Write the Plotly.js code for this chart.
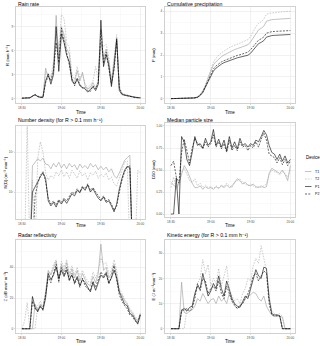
<!DOCTYPE html>
<html><head><meta charset="utf-8">
<script src="https://cdn.plot.ly/plotly-3.0.1.min.js"></script>
<style>html,body{margin:0;padding:0;background:#fff}#chart{width:320px;height:346px}</style>
</head><body><div id="chart"></div>
<script>
// minutes after 18:30
const minutes = [0,2,4,6,8,10,12,14,16,18,20,22,24,26,28,30,32,34,36,38,40,42,44,46,48,50,52,54,56,58,60,62,64,66,68,70,72,74,76,78,80,82,84,86,88,90];
const devices = ['T1','T2','P1','P2'];

// Rain rate (mm h-1)
const rainT1 = [0.05,0.05,0.05,0.1,0.3, 0.5,0.3,0.2,0.2,3.8, 2.6,2.4,3.8,10.4,5.0,9.0, 8.0,6.2,5.6,2.4, 2.0,3.5,2.2,3.3,1.6,1.2,1.4,2.0,1.3,2.2, 7.0,5.0,6.2,4.6,2.0,4.4,7.4,1.2, 0.6,0.5,0.4,0.3,0.25,0.2,0.12,0.1];
const rainT2 = [0.05,0.05,0.05,0.1,0.35, 0.55,0.35,0.25,0.2,3.3, 3.0,2.8,4.6,8.5,6.0,10.5, 10.0,7.0,6.4,3.0, 2.4,4.0,2.6,3.0,1.8,1.4,1.7,2.2,4.0,2.4, 7.0,6.5,6.8,5.2,2.2,5.0,8.0,1.6, 0.7,0.55,0.4,0.35,0.25,0.2,0.12,0.1];
const rainP1 = [0.05,0.05,0.05,0.1,0.3, 0.5,0.25,0.15,0.15,2.2, 3.1,1.8,3.0,9.0,3.4,8.1, 7.0,5.4,4.6,2.2, 1.8,2.4,1.6,1.4,1.2,0.8,1.1,1.5,1.0,1.8, 9.8,4.0,5.5,4.2,1.5,4.0,7.5,1.0, 0.5,0.4,0.35,0.3,0.2,0.15,0.1,0.1];
const rainP2 = [0.05,0.05,0.05,0.1,0.3, 0.45,0.25,0.15,0.2,2.0, 2.8,2.2,3.4,7.0,4.5,8.8, 7.2,5.8,4.2,2.5, 1.6,2.6,1.8,1.3,1.4,1.0,0.9,1.6,1.2,2.0, 8.6,4.4,5.8,3.8,1.8,3.6,7.2,1.3, 0.6,0.45,0.35,0.3,0.2,0.15,0.1,0.1];

// Cumulative precipitation (mm)
const cumT1 = [0,0,0,0,0,0.01,0.02,0.02,0.03,0.04, 0.08,0.18,0.35,0.6,0.92,1.25,1.55,1.7,1.82,1.92, 2.0,2.07,2.14,2.2,2.25,2.29,2.33,2.38,2.42,2.47, 2.6,2.8,3.0,3.15,3.22,3.32,3.55,3.6,3.62,3.63, 3.64,3.65,3.66,3.67,3.67,3.68];
const cumT2 = [0,0,0,0,0,0.01,0.02,0.02,0.03,0.04, 0.08,0.18,0.36,0.64,0.98,1.35,1.68,1.86,2.0,2.1, 2.18,2.27,2.34,2.4,2.45,2.49,2.53,2.6,2.65,2.7, 2.85,3.08,3.3,3.45,3.52,3.64,3.87,3.91,3.93,3.95, 3.96,3.97,3.98,3.99,4.0,4.0];
const cumP1 = [0,0,0,0,0,0.01,0.02,0.02,0.03,0.03, 0.06,0.14,0.28,0.5,0.78,1.02,1.26,1.4,1.5,1.58, 1.65,1.7,1.75,1.8,1.84,1.87,1.9,1.93,1.96,1.99, 2.08,2.24,2.38,2.52,2.58,2.66,2.82,2.87,2.89,2.9, 2.91,2.92,2.93,2.93,2.94,2.94];
const cumP2 = [0,0,0,0,0,0.01,0.02,0.02,0.03,0.04, 0.07,0.16,0.31,0.55,0.85,1.12,1.36,1.5,1.6,1.68, 1.74,1.79,1.85,1.9,1.94,1.98,2.01,2.05,2.09,2.13, 2.24,2.4,2.55,2.68,2.74,2.83,3.0,3.05,3.07,3.08, 3.09,3.1,3.11,3.11,3.12,3.12];

// Number density (m-3 mm-1); 0 = none detected
const ndT1 = [0,0,0,0,45, 55,68,60,70,50, 48,38,52,42,55,40,50,38,52,42, 48,36,50,40,46,38,52,42,48,36, 44,36,42,32,38,26,22,30,45,62, 72,83,0,0,0,0];
const ndT2 = [0,0,500,0,20, 0,70,180,100,30, 20,26,22,32,25,36,24,32,22,35, 28,22,34,25,30,20,30,26,33,22, 28,24,30,20,24,16,14,22,38,55, 60,0,0,0,35,30];
const ndP1 = [0,0,0,0,10, 14,18,24,30,22, 6,4.5,5.5,4.2,6,5,6.5,5.2,7,9, 8,11,9.5,13,11,15,10,12,9,7, 6,7.5,5.5,6,4.5,3.2,5,12,22,35, 44,40,0,0,0,0];
const ndP2 = [0,0,0,0,0, 8,16,26,32,18, 7,5,6,4.8,6.5,5.5,7,6,7.5,10, 9,12,10,14,12,16,11,13,10,8, 6.5,8,6,6.5,5,3.5,4.5,10,20,32, 42,45,0,0,0,0];

// Median particle size D50 (mm)
const d50T1 = [0.36,0.33,0.3,0.35,0.45,0.55,0.5,0.42,0.35,0.3, 0.3,0.32,0.28,0.31,0.29,0.3,0.28,0.31,0.29,0.32, 0.3,0.33,0.3,0.32,0.36,0.4,0.38,0.34,0.36,0.33, 0.32,0.34,0.31,0.3,0.32,0.3,0.31,0.46,0.52,0.5, 0.48,0.46,0.5,0.45,0.38,0.55];
const d50T2 = [0.3,0.42,0.28,0.33,0.48,0.52,0.45,0.38,0.36,0.4, 0.32,0.35,0.3,0.33,0.3,0.31,0.29,0.32,0.3,0.33, 0.31,0.35,0.32,0.3,0.36,0.38,0.4,0.36,0.34,0.32, 0.34,0.32,0.3,0.31,0.3,0.32,0.34,0.45,0.5,0.48, 0.47,0.44,0.48,0.46,0.42,0.5];
const d50P1 = [0,0,0.41,0,0.88,0.82,0.62,0.55,0.7,0.88, 0.78,0.8,0.75,0.86,0.78,0.82,0.96,0.78,0.85,0.76, 0.84,0.72,0.88,0.75,0.82,0.74,0.86,0.78,0.8,0.76, 0.8,0.78,0.84,0.82,0.88,0.95,0.9,0.78,0.7,0.68, 0.62,0.68,0.6,0.66,0.58,0.62];
const d50P2 = [0.55,0.6,0.42,0.35,0.7,0.85,0.72,0.58,0.75,0.86, 0.8,0.78,0.74,0.82,0.76,0.8,0.9,0.76,0.82,0.74, 0.8,0.7,0.84,0.72,0.78,0.72,0.82,0.76,0.78,0.72, 0.78,0.75,0.82,0.76,0.85,0.92,0.84,0.68,0.66,0.64, 0.58,0.64,0.56,0.62,0.55,0.6];

// Radar reflectivity (dB mm6 m-3)
const zT1 = [0,0,0,0,0, 16,12,16,14,24, 38,35,40,44,30,42, 37,43,34,39, 33,38,31,36,32,29,28,34,30,36, 55,38,40,33,36,42,35,24, 22,18,16,12,10,7,5,9];
const zT2 = [0,5,17,0,0, 0,15,18,14,22, 37,36,42,45,33,44, 40,45,36,41, 35,40,34,38,34,31,30,37,33,38, 46,42,43,36,38,45,38,26, 23,19,17,13,11,8,6,10];
const zP1 = [0,0,0,0,21, 14,11,15,12,20, 36,32,35,40,33,38, 34,38,32,35, 30,34,28,32,30,27,24,30,25,30, 35,33,36,30,33,38,33,24, 20,16,15,10,9,6,3,9];
const zP2 = [0,0,0,0,18, 13,12,14,13,22, 34,30,36,42,31,40, 35,40,31,36, 29,33,27,33,28,26,25,31,27,32, 37,34,37,29,34,41,32,22, 18,15,13,9,8,5,4,10];

// Kinetic energy (J m-2 mm-1)
const eT1 = [0,0,0,0,18.5, 6.5,6,7,7.5,9, 12,11,14,12,10,11.5, 12,10,13,11, 12,10,14,11,9,8,9.5,10,12,13, 13.5,14.5,14,12,11,13,9,7, 5.5,5,5,5,4.5,0,0,0];
const eT2 = [0,0,0,0,0, 0,8,7,9,13, 18,20,27.5,22,25.5,17, 20,18,24,17, 21,25,16,13,11,12,10,14,16,20, 19,25,28,26,33,28,23,13, 7,6,5.5,6,5,0,0,0];
const eP1 = [0,0,0,0,7.5, 8,7,8.5,9,14, 17,16,22,18,13,15, 18,16,21,16, 13,19,15,12,10,9,8.5,11,13,12, 15.5,19,23.5,21,20,24.5,24,12, 6,5.5,5.5,5.2,0,0,0,0];
const eP2 = [0,0,0,0,7, 7.5,8,7,8,12, 18,15,20,19,14,16, 17,15,19,14, 12,17,14,11,9.5,8,9,10,12,14, 17,21,22,19,21,23,22,10, 5.5,5,5.2,5,0,0,0,0];

const times = minutes.map(m => {
  const tot = 18*60 + 30 + m;
  const h = Math.floor(tot/60), mm = tot % 60;
  return '2019-06-01 ' + h + ':' + String(mm).padStart(2,'0') + ':00';
});

const styles = {
  T1: {color:'#9a9a9a', dash:'solid'},
  T2: {color:'#ababab', dash:'1.6px,1.2px'},
  P1: {color:'#000000', dash:'solid'},
  P2: {color:'#000000', dash:'2px,1.3px'}
};

const panels = [
  {series:[rainT1,rainT2,rainP1,rainP2], title:'Rain rate', ytitle:'R (mm h⁻¹)', px:[16,145,7,103], yr:[-0.55,11.45], dtick:3, minor:1.5, ytx:7, ttl:4.5, tx:112},
  {series:[cumT1,cumT2,cumP1,cumP2], title:'Cumulative precipitation', ytitle:'P (mm)', px:[165,295,7,103], yr:[-0.2,4.2], dtick:1, minor:0.5, ytx:153, ttl:4.5, tx:112},
  {series:[ndT1,ndT2,ndP1,ndP2], title:'Number density (for R > 0.1 mm h⁻¹)', ytitle:'N(D) (m⁻³ mm⁻¹)', px:[16,145,126,219], yr:[0.325,2.65], log:true, ytx:5, ttl:120, tx:226},
  {series:[d50T1,d50T2,d50P1,d50P2], title:'Median particle size', ytitle:'D50 (mm)', px:[165,295,123,217], yr:[-0.034,1.034], dtick:0.25, minor:0.125, fmt:'.2f', ytx:153, ttl:120, tx:226},
  {series:[zT1,zT2,zP1,zP2], title:'Radar reflectivity', ytitle:'Z (dB mm⁶ m⁻³)', px:[16,145,240,333], yr:[-2.75,57.75], dtick:20, minor:10, ytx:5, ttl:235, tx:341},
  {series:[eT1,eT2,eP1,eP2], title:'Kinetic energy (for R > 0.1 mm h⁻¹)', ytitle:'E (J m⁻²mm⁻¹)', px:[165,295,240,333], yr:[-1.7,35.3], dtick:10, minor:5, ytx:153, ttl:235, tx:341}
];

const W = 320, H = 346;
const fx = p => p / W, fy = p => 1 - p / H;
const FONT = 'Liberation Sans, Arial, DejaVu Sans, sans-serif';
const gridMajor = '#e3e3e3', gridMinor = '#f0f0f0', border = '#b3b3b3';
const TICK = 3.1, TTL = 5.2, AX = 4.5, YAX = 4.2, LEG = 3.6, LEGT = 4.5;

const data = [];
const layout = {
  width: W, height: H, margin:{l:0,r:0,t:0,b:0},
  paper_bgcolor:'#fff', plot_bgcolor:'#fff', showlegend:false,
  font:{family:FONT, size:TICK, color:'#4d4d4d'},
  annotations:[], shapes:[]
};

panels.forEach((p, k) => {
  const n = k + 1;
  const xa = 'x' + (n === 1 ? '' : n), ya = 'y' + (n === 1 ? '' : n);
  p.series.forEach((vals, d) => {
    const dev = devices[d];
    const y = p.log ? vals.map(v => v === 0 ? 0.3 : v) : vals;
    data.push({type:'scatter', mode:'lines', x: times, y: y, xaxis: xa, yaxis: ya, name: dev,
      line:{color: styles[dev].color, dash: styles[dev].dash, width: 0.6}, hoverinfo:'skip'});
  });
  const xkey = 'xaxis' + (n === 1 ? '' : n), ykey = 'yaxis' + (n === 1 ? '' : n);
  layout[xkey] = {
    type:'date', domain:[fx(p.px[0]), fx(p.px[1])], anchor: ya,
    range:['2019-06-01 18:25:30','2019-06-01 20:03:30'],
    tick0:'2019-06-01 18:30:00', dtick:1800000, tickformat:'%H:%M',
    showgrid:true, gridcolor:gridMajor, gridwidth:0.5,
    minor:{dtick:900000, tick0:'2019-06-01 18:30:00', showgrid:true, gridcolor:gridMinor, gridwidth:0.3, ticks:''},
    showline:true, mirror:true, linecolor:border, linewidth:0.6,
    ticks:'outside', ticklen:1.5, tickwidth:0.5, tickcolor:border,
    tickfont:{size:TICK, color:'#4d4d4d', family:FONT}, zeroline:false, fixedrange:true
  };
  const yax = {
    domain:[fy(p.px[3]), fy(p.px[2])], anchor: xa,
    range: p.yr, showgrid:true, gridcolor:gridMajor, gridwidth:0.5,
    showline:true, mirror:true, linecolor:border, linewidth:0.6,
    ticks:'outside', ticklen:1.5, tickwidth:0.5, tickcolor:border,
    tickfont:{size:TICK, color:'#4d4d4d', family:FONT}, zeroline:false, fixedrange:true
  };
  if (p.log) {
    yax.type = 'log';
    yax.tickmode = 'array'; yax.tickvals = [10,100]; yax.ticktext = ['10¹','10²'];
    yax.minor = {tickmode:'array', tickvals:[3.162,31.62,316.2], showgrid:true, gridcolor:gridMinor, gridwidth:0.3, ticks:''};
  } else {
    yax.tick0 = 0; yax.dtick = p.dtick;
    if (p.fmt) yax.tickformat = p.fmt;
    yax.minor = {dtick:p.minor, tick0:0, showgrid:true, gridcolor:gridMinor, gridwidth:0.3, ticks:''};
  }
  layout[ykey] = yax;

  layout.annotations.push({text:p.title, xref:'paper', yref:'paper', x:fx(p.px[0]), y:fy(p.ttl),
    xanchor:'left', yanchor:'middle', showarrow:false, font:{size:TTL, color:'#000', family:FONT}});
  layout.annotations.push({text:'Time', xref:'paper', yref:'paper', x:fx((p.px[0]+p.px[1])/2), y:fy(p.tx),
    xanchor:'center', yanchor:'middle', showarrow:false, font:{size:AX, color:'#000', family:FONT}});
  layout.annotations.push({text:p.ytitle, xref:'paper', yref:'paper', x:fx(p.ytx), y:fy((p.px[2]+p.px[3])/2),
    xanchor:'center', yanchor:'middle', textangle:-90, showarrow:false, font:{size:YAX, color:'#000', family:FONT}});
});

// legend (manual, small)
layout.annotations.push({text:'Device', xref:'paper', yref:'paper', x:fx(303.5), y:fy(158),
  xanchor:'left', yanchor:'middle', showarrow:false, font:{size:LEGT, color:'#000', family:FONT}});
const legY = [171.5, 179, 186.5, 194];
devices.forEach((dev, i) => {
  layout.shapes.push({type:'line', xref:'paper', yref:'paper', x0:fx(305), x1:fx(311.5), y0:fy(legY[i]), y1:fy(legY[i]),
    line:{color:styles[dev].color, dash:styles[dev].dash, width:0.6}});
  layout.annotations.push({text:dev, xref:'paper', yref:'paper', x:fx(313), y:fy(legY[i]),
    xanchor:'left', yanchor:'middle', showarrow:false, font:{size:LEG, color:'#000', family:FONT}});
});

Plotly.newPlot('chart', data, layout, {displayModeBar:false, staticPlot:true});
</script></body></html>
